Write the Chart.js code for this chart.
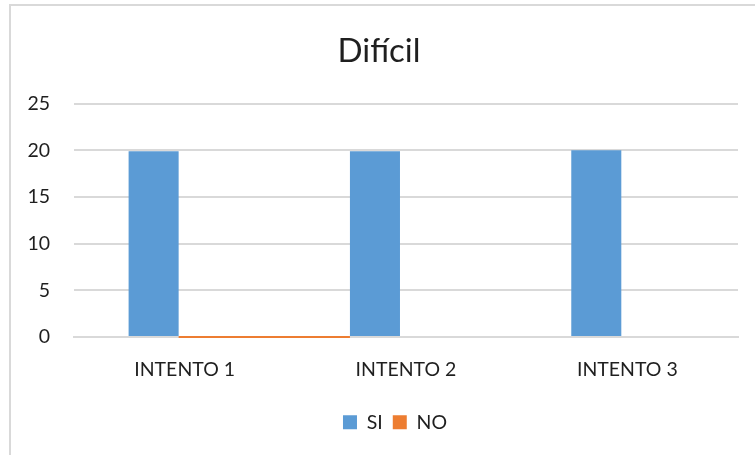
<!DOCTYPE html>
<html>
<head>
<meta charset="utf-8">
<script src="https://cdn.jsdelivr.net/npm/chart.js@4/dist/chart.umd.min.js"></script>
<style>
  html, body { margin: 0; padding: 0; background: #fff; overflow: hidden; }
  #wrap { position: relative; width: 755px; height: 455px; }
  #frame { position: absolute; left: 9px; top: 4px; width: 760px; height: 470px; border: 2px solid #d9d9d9; pointer-events: none; }
  canvas { position: absolute; left: 0; top: 0; }
</style>
</head>
<body>
<div id="wrap">
  <canvas id="c" width="755" height="455"></canvas>
  <div id="frame"></div>
</div>
<script>
const categories = ['INTENTO 1', 'INTENTO 2', 'INTENTO 3'];
const siValues = [19.9, 19.9, 20];
const noValues = [0, null, null];
const yTicks = [0, 5, 10, 15, 20, 25];

const FONT = 'Lato, "Open Sans", sans-serif';
const TEXT = '#1f1f1f';
const GRID = '#d9d9d9';

// A zero value in the NO series is drawn as a flat stroke on the baseline,
// running from the SI bar of its category to the SI bar of the next one.
const zeroLinePlugin = {
  id: 'zeroLine',
  afterDatasetsDraw(chart) {
    const si = chart.getDatasetMeta(0);
    const no = chart.getDatasetMeta(1);
    const y = chart.scales.y.getPixelForValue(0);
    const ctx = chart.ctx;
    ctx.save();
    ctx.strokeStyle = chart.data.datasets[1].backgroundColor;
    ctx.lineWidth = 2;
    no.data.forEach((el, i) => {
      if (chart.data.datasets[1].data[i] !== 0) return;
      const a = si.data[i];
      const b = si.data[i + 1];
      if (!a || !b) return;
      const x0 = a.x + a.width / 2;
      const x1 = b.x - b.width / 2;
      ctx.beginPath();
      ctx.moveTo(x0, y);
      ctx.lineTo(x1, y);
      ctx.stroke();
    });
    ctx.restore();
  }
};

// The chart frame runs past the right edge of the page, so the title and
// legend are centred on the frame rather than on the canvas.
const frameCentrePlugin = {
  id: 'frameCentre',
  afterLayout(chart) {
    const t = chart.titleBlock;
    if (t) { t.left += 10; t.right += 10; }
    const l = chart.legend;
    if (l) { l.left += 26; l.right += 26; }
  }
};

new Chart(document.getElementById('c'), {
  type: 'bar',
  data: {
    labels: categories,
    datasets: [
      { label: 'SI', data: siValues, backgroundColor: '#5b9bd5', categoryPercentage: 0.561, barPercentage: 0.806 },
      { label: 'NO', data: noValues, backgroundColor: '#ed7d31', categoryPercentage: 0.561, barPercentage: 0.806 }
    ]
  },
  options: {
    responsive: false,
    animation: false,
    devicePixelRatio: 1,
    layout: { padding: { left: 0, right: 17, top: 0, bottom: 13 } },
    plugins: {
      title: {
        display: true,
        text: 'Difícil',
        color: TEXT,
        font: { family: FONT, size: 33, weight: 'normal' },
        padding: { top: 32, bottom: 32 }
      },
      legend: {
        position: 'bottom',
        labels: {
          color: TEXT,
          font: { family: FONT, size: 19.5 },
          boxWidth: 14,
          boxHeight: 14,
          padding: 10
        }
      },
      tooltip: { enabled: false }
    },
    scales: {
      x: {
        grid: { display: false, drawTicks: false },
        border: { display: true, color: GRID, width: 2 },
        ticks: { color: TEXT, font: { family: FONT, size: 19.5 }, padding: 21 }
      },
      y: {
        min: 0,
        max: 25,
        afterBuildTicks(axis) { axis.ticks = yTicks.map(v => ({ value: v })); },
        afterFit(axis) { axis.width = 74; },
        grid: { color: GRID, lineWidth: 2, drawTicks: false },
        border: { display: false },
        ticks: { color: TEXT, font: { family: FONT, size: 19.5 }, padding: 24 }
      }
    }
  },
  plugins: [zeroLinePlugin, frameCentrePlugin]
});
</script>
</body>
</html>
